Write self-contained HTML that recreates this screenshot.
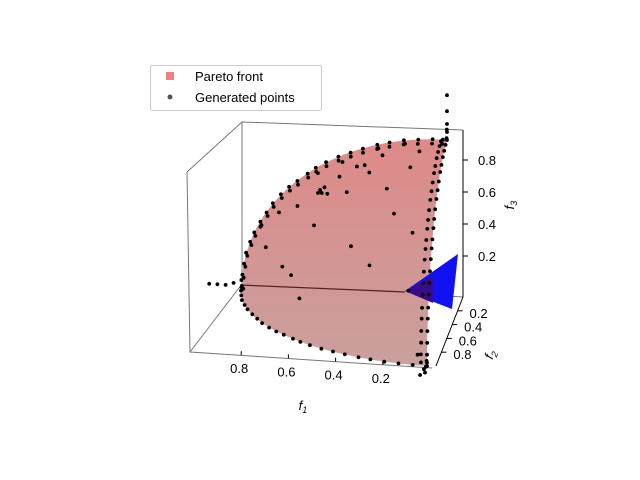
<!DOCTYPE html>
<html><head><meta charset="utf-8"><style>
body{margin:0;background:#fff}
svg{display:block;font-family:"Liberation Sans","DejaVu Sans",sans-serif}
</style></head><body>
<svg id="chart" width="640" height="480">
<defs><linearGradient id="sg" x1="0" y1="0" x2="0" y2="1">
<stop offset="0" stop-color="#de8a88"/><stop offset="1" stop-color="#c9a09e"/></linearGradient></defs>
<g stroke="#777" stroke-width="1" fill="none">
<polyline points="187,172 242,122 463,130"/>
<line x1="242" y1="122" x2="242" y2="284"/>
<polyline points="187,172 190,352 432,368"/>
<line x1="190" y1="352" x2="242" y2="284"/>
<line x1="242" y1="284" x2="463" y2="297"/>
<line x1="463" y1="130" x2="463" y2="297" stroke="#000"/>
<line x1="463" y1="297" x2="436" y2="366" stroke="#000"/>
</g>
<path id="surf" fill="url(#sg)"/>
<line x1="240" y1="285" x2="405" y2="292" stroke="#5a2020" stroke-width="1.2"/>
<polygon points="405,291 458,254 452,309" fill="#1010f0"/>
<polygon points="405,291 433,276 433,303" fill="#3a0c8c"/>
<g id="pts"></g>
<g id="ticks" font-size="13" fill="#000"></g>
<text x="303" y="410" font-size="13" font-style="italic" text-anchor="middle">f<tspan font-size="9" dy="3">1</tspan></text>
<text transform="translate(494,356) rotate(-70)" font-size="13" font-style="italic" text-anchor="middle">f<tspan font-size="9" dy="3">2</tspan></text>
<text transform="translate(514,205) rotate(-90)" font-size="13" font-style="italic" text-anchor="middle">f<tspan font-size="9" dy="3">3</tspan></text>
<g>
<rect x="150.5" y="65.5" width="171" height="45" rx="2" fill="#fff" stroke="#ccc"/>
<rect x="166" y="72" width="8" height="8" fill="#f08080"/>
<text x="195" y="81" font-size="13">Pareto front</text>
<circle cx="170" cy="97" r="2.5" fill="#555"/>
<text x="195" y="102" font-size="13">Generated points</text>
</g>
</svg>
<script>
const xTicks=[0.8,0.6,0.4,0.2];
const yTicks=[0.2,0.4,0.6,0.8];
const zTicks=[0.2,0.4,0.6,0.8];
// edge points sampled along the front boundary (cos/sin pairs)
const edgeCos=[1.0,0.998,0.99,0.98,0.96,0.94,0.91,0.88,0.85,0.81,0.77,0.73,0.68,0.64,0.59,0.53,0.47,0.41,0.34,0.28,0.21,0.14,0.07,0.02];
const edgeSin=[0.0,0.07,0.14,0.21,0.28,0.34,0.41,0.47,0.53,0.59,0.64,0.68,0.73,0.77,0.81,0.85,0.88,0.91,0.94,0.96,0.98,0.99,0.998,1.0];
// interior and off-front points
const ptsF1=[0.6,0.55,0.5,0.45,0.62,0.35,0.3,0.7,0.2,0.25,0.4,0.75,0.8,0.6,0.3,0.15,0.1,0.5,0.2,0.58,0.57,0.59,0.42,0.38,0.33,0.12,0.9,0.85,0.65,0.1,0.7,1.08,1.12,1.16,1.04,1.0,0.0,0.0,0.0,0.0,0.0,0.0,0.01,0.0,0.02,0.0,0.0,0.05];
const ptsF2=[0.3,0.35,0.25,0.4,0.1,0.3,0.15,0.3,0.6,0.45,0.7,0.55,0.2,0.5,0.8,0.3,0.7,0.1,0.05,0.32,0.28,0.3,0.2,0.22,0.05,0.15,0.1,0.35,0.72,0.9,0.62,0.0,0.0,0.0,0.01,0.03,0.0,0.0,0.0,0.0,0.02,0.01,1.05,1.1,1.14,1.02,1.06,0.96];
const ptsF3=[0.74,0.76,0.83,0.8,0.78,0.89,0.94,0.65,0.77,0.86,0.59,0.37,0.56,0.62,0.52,0.94,0.7,0.86,0.98,0.75,0.77,0.76,0.88,0.9,0.94,0.98,0.42,0.4,0.25,0.42,0.35,0.0,0.0,0.0,0.02,0.05,1.05,1.1,1.18,1.28,1.02,1.07,0.0,0.0,0.0,0.04,0.02,0.05];
const NS='http://www.w3.org/2000/svg';
const O=[447,300],V1=[-205,-14],V2=[-20,66],V3=[0,-160];
function proj(a,b,c){return [O[0]+a*V1[0]+b*V2[0]+c*V3[0],O[1]+a*V1[1]+b*V2[1]+c*V3[1]];}
let d='';const N=30;
for(let i=0;i<=N;i++){const t=i/N*Math.PI/2;const p=proj(Math.cos(t),0,Math.sin(t));d+=(i?'L':'M')+p[0].toFixed(1)+','+p[1].toFixed(1);}
for(let i=0;i<=N;i++){const t=i/N*Math.PI/2;const p=proj(0,Math.sin(t),Math.cos(t));d+='L'+p[0].toFixed(1)+','+p[1].toFixed(1);}
for(let i=0;i<=N;i++){const t=i/N*Math.PI/2;const p=proj(Math.sin(t),Math.cos(t),0);d+='L'+p[0].toFixed(1)+','+p[1].toFixed(1);}
document.getElementById('surf').setAttribute('d',d+'Z');
const g=document.getElementById('pts');
function dot(a,b,c){const p=proj(a,b,c);
const e=document.createElementNS(NS,'circle');e.setAttribute('cx',p[0].toFixed(1));e.setAttribute('cy',p[1].toFixed(1));e.setAttribute('r',1.9);e.setAttribute('fill','#000');


g.appendChild(e);}
for(let i=0;i<edgeCos.length;i++){
  dot(edgeCos[i],0,edgeSin[i]);
  dot(0,edgeSin[i],edgeCos[i]);
  dot(edgeSin[i],edgeCos[i],0);
  dot(edgeCos[i]*0.99,0.04,edgeSin[i]*0.99);
  dot(0.03,edgeSin[i],edgeCos[i]*0.99);
}
for(let i=0;i<ptsF1.length;i++){dot(ptsF1[i],ptsF2[i],ptsF3[i]);}
const tg=document.getElementById('ticks');
function txt(x,y,s,anchor,name){const t=document.createElementNS(NS,'text');t.setAttribute('x',x);t.setAttribute('y',y);t.setAttribute('text-anchor',anchor);t.textContent=s;


tg.appendChild(t);}
function ln(x1,y1,x2,y2){const l=document.createElementNS(NS,'line');l.setAttribute('x1',x1);l.setAttribute('y1',y1);l.setAttribute('x2',x2);l.setAttribute('y2',y2);l.setAttribute('stroke','#000');


tg.appendChild(l);}
xTicks.forEach(v=>{const px=430-v*236,py=368-v*16;ln(px,py-4,px,py);txt(px-2,py+18,v.toFixed(1),'middle','x-tick-label');});
yTicks.forEach(v=>{const px=463-v*27,py=297+v*69;ln(px,py,px+5,py);txt(px+21,py+7,v.toFixed(1),'middle','y-tick-label');});
zTicks.forEach(v=>{const py=288-v*160;ln(463,py,468,py);txt(487,py+5,v.toFixed(1),'middle','z-tick-label');});
</script>
</body></html>
